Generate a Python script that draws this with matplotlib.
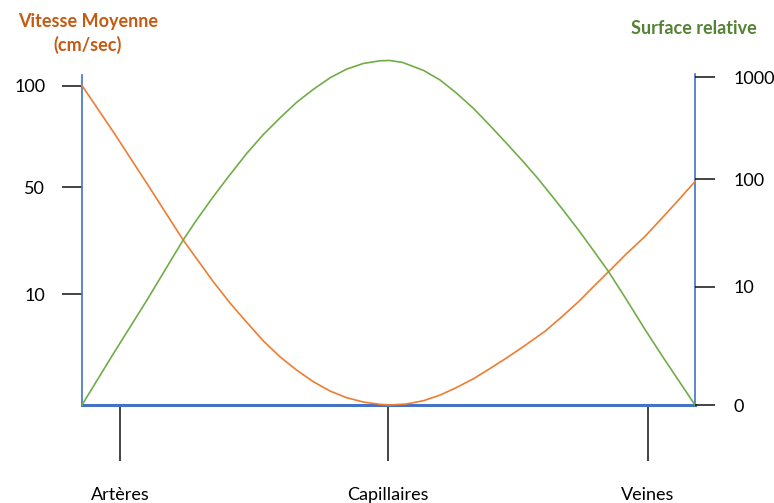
import matplotlib.pyplot as plt

# positions along the vessel path (% of axis width) and curve heights (% of axis height)
pos_orange = [0, 5.1, 10.6, 16.5, 21.4, 24.1, 26.9, 29.6, 32.3, 35.0, 37.7, 40.5,
              43.2, 45.9, 48.6, 50.2, 52.9, 55.7, 58.4, 61.1, 63.9, 66.6, 69.3,
              72.0, 75.5, 78.2, 81.0, 83.4, 85.9, 88.8, 91.8, 94.6, 97.3, 100]
vitesse = [96.8, 82.8, 67.1, 50.0, 37.4, 31.0, 25.0, 19.4, 14.6, 10.6, 7.1, 4.2,
           2.2, 0.9, 0.2, 0.0, 0.3, 1.3, 3.0, 5.3, 8.0, 11.1, 14.3,
           17.7, 22.3, 26.6, 31.3, 35.8, 40.4, 45.8, 51.0, 56.6, 62.1, 67.7]

pos_green = [0, 5.1, 10.6, 16.5, 18.7, 21.4, 24.1, 26.9, 29.6, 32.3, 35.0, 37.7,
             40.5, 43.2, 45.9, 48.6, 50.2, 52.3, 55.7, 58.4, 61.1, 63.9, 66.6,
             69.3, 72.0, 74.2, 76.3, 78.6, 81.0, 83.4, 85.9, 88.8, 91.8, 94.6,
             97.3, 100]
surface = [0.0, 15.5, 31.8, 50.0, 56.1, 63.1, 69.7, 76.3, 82.0, 87.0, 91.7, 95.6,
           99.2, 101.8, 103.5, 104.3, 104.4, 103.8, 101.4, 98.5, 94.5, 89.8, 84.6,
           79.2, 73.7, 69.0, 64.2, 58.8, 53.0, 46.9, 40.4, 32.0, 23.0, 15.0,
           7.5, 0.0]

left_ticks = [96.7, 66.0, 33.5]
left_labels = ["100", "50", "10"]
right_ticks = [99.3, 68.4, 35.8, 0]
right_labels = ["1000", "100", "10", "0"]
vessel_pos = [6.2, 49.9, 92.3]
vessel_labels = ["Artères", "Capillaires", "Veines"]

ORANGE = "#ED7D31"
GREEN = "#70AD47"
BLUE = "#4472C4"

plt.rcParams["font.family"] = ["Lato", "DejaVu Sans"]


def main():
    fig = plt.figure(figsize=(7.74, 5.03), dpi=100)
    ax = fig.add_axes([82 / 774, 98 / 503, 613 / 774, 363 / 503])
    ax.set_xlim(0, 100)
    ax.set_ylim(0, 110)

    ax.plot(pos_orange, vitesse, color=ORANGE, lw=1.2, zorder=3, clip_on=False)
    ax.plot(pos_green, surface, color=GREEN, lw=1.2, zorder=3, clip_on=False)

    # axes lines
    for side in ["left", "right", "bottom"]:
        ax.spines[side].set_color(BLUE)
    ax.spines["top"].set_visible(False)
    ax.spines["left"].set_bounds(0, 100)
    ax.spines["right"].set_bounds(0, 100.3)
    ax.spines["bottom"].set_linewidth(2.2)
    ax.spines["left"].set_linewidth(1.2)
    ax.spines["right"].set_linewidth(1.2)

    ax.set_yticks(left_ticks)
    ax.set_yticklabels(left_labels)
    ax.tick_params(axis="y", length=14.5, width=1.1, color="#111111", pad=12, labelsize=13)

    ax.set_xticks(vessel_pos)
    ax.set_xticklabels(vessel_labels)
    ax.tick_params(axis="x", length=40, width=1.1, color="#111111", pad=19, labelsize=13)

    ax2 = ax.twinx()
    ax2.set_ylim(0, 110)
    for side in ["left", "right", "bottom", "top"]:
        ax2.spines[side].set_visible(False)
    ax2.set_yticks(right_ticks)
    ax2.set_yticklabels(right_labels)
    ax2.tick_params(axis="y", length=14.5, width=1.1, color="#111111", pad=13, labelsize=13)

    fig.text(88 / 774, 1 - 21 / 503, "Vitesse Moyenne", color="#C55A11", fontsize=13,
             fontweight="bold", ha="center", va="center")
    fig.text(88 / 774, 1 - 45 / 503, "(cm/sec)", color="#C55A11", fontsize=13,
             fontweight="bold", ha="center", va="center")
    fig.text(694 / 774, 1 - 28 / 503, "Surface relative", color="#548235", fontsize=13,
             fontweight="bold", ha="center", va="center")

    fig.savefig("out.png", dpi=100)


if __name__ == "__main__":
    main()
